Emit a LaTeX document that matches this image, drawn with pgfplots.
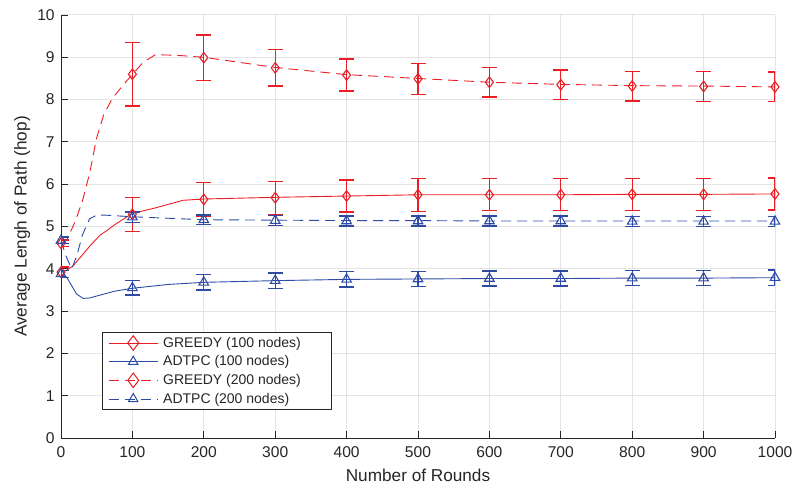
\documentclass[border=0pt]{standalone}
\usepackage{fontspec}
\setmainfont{Liberation Sans}
\usepackage{pgfplots}
\pgfplotsset{compat=1.18}
\definecolor{mred}{RGB}{235,30,38}
\definecolor{mblue}{RGB}{45,75,165}
\definecolor{axgray}{RGB}{38,38,38}
\definecolor{gridgray}{RGB}{228,228,228}
\pgfplotsset{
  errstyle/.style={only marks, forget plot,
    error bars/.cd, y dir=both, y explicit,
    error bar style={line width=1.3pt, solid},
    error mark options={rotate=90, mark size=7.5pt, line width=1.3pt, solid}},
}
\begin{document}
\begin{tikzpicture}
\path[use as bounding box] (0,0) rectangle (794pt,485pt);
\begin{axis}[
  at={(61pt,47pt)}, anchor=south west,
  scale only axis, width=714pt, height=423pt,
  xmin=0, xmax=1000, ymin=0, ymax=10,
  xtick={0,100,...,1000}, ytick={0,1,...,10},
  axis x line*=bottom, axis y line*=left,
  xtick pos=left, ytick pos=left,
  tick align=inside,
  major tick length=7pt,
  tick style={axgray, line width=0.8pt},
  axis line style={axgray, line width=0.8pt},
  grid=major,
  major grid style={gridgray, line width=1pt},
  ticklabel style={font=\fontsize{15.6}{18}\selectfont, text=axgray},
  /pgf/number format/assume math mode=true,
  /pgf/number format/1000 sep={},
  xticklabel style={yshift=-4.8pt},
  yticklabel style={xshift=-2.8pt},
  label style={font=\fontsize{17.2}{20}\selectfont, text=axgray},
  xlabel={Number of Rounds},
  ylabel={Average Lengh of Path (hop)},
  xlabel style={at={([yshift=-43pt]axis description cs:0.5,0)}, anchor=base},
  ylabel style={at={([xshift=-34.5pt]axis description cs:0,0.5)}, anchor=base},
  legend style={at={(0.0574,0.066)}, anchor=south west, draw=axgray, line width=0.6pt,
    font=\fontsize{14}{16}\selectfont, text=axgray, cells={anchor=west},
    inner xsep=6pt, inner ysep=3pt, row sep=3pt,
    /tikz/every odd column/.append style={column sep=3pt}},
  legend image code/.code={\draw[mark repeat=2,mark phase=2,#1] plot coordinates {(0pt,0pt) (24.5pt,0pt) (49pt,0pt)};},
]
% legend images
\addlegendimage{mred, solid, line width=0.9pt, mark=diamond, mark size=7.3pt, mark options={solid, line width=1pt, fill=none}}
\addlegendentry{\makebox[160pt][l]{GREEDY (100 nodes)}}
\addlegendimage{mblue, solid, line width=0.9pt, mark=triangle, mark size=5.5pt, mark options={solid, line width=1pt, fill=none}}
\addlegendentry{\makebox[160pt][l]{ADTPC (100 nodes)}}
\addlegendimage{mred, dash pattern=on 10pt off 6pt, line width=0.9pt, mark=diamond, mark size=7.3pt, mark options={solid, line width=1pt, fill=none}}
\addlegendentry{\makebox[160pt][l]{GREEDY (200 nodes)}}
\addlegendimage{mblue, dash pattern=on 10pt off 6pt, line width=0.9pt, mark=triangle, mark size=5.5pt, mark options={solid, line width=1pt, fill=none}}
\addlegendentry{\makebox[160pt][l]{ADTPC (200 nodes)}}

% ---- lines ----
% GREEDY (100 nodes)
\addplot[mred, line width=0.9pt, forget plot] coordinates {
(0,3.92) (8,3.97) (17,4.07) (27,4.27) (41,4.55) (55,4.80) (64,4.90) (75,5.04) (87,5.17) (100,5.31)
(130,5.43) (171,5.62) (200,5.65) (300,5.69) (400,5.72) (500,5.75) (600,5.75) (700,5.75) (800,5.76) (900,5.76) (1000,5.77)};
% ADTPC (100 nodes)
\addplot[mblue, line width=0.9pt, forget plot] coordinates {
(0,3.88) (8,3.80) (15,3.60) (22,3.40) (31,3.30) (40,3.31) (55,3.38) (75,3.47) (100,3.54)
(150,3.63) (200,3.68) (300,3.72) (400,3.75) (500,3.76) (600,3.77) (700,3.77) (800,3.78) (900,3.78) (1000,3.79)};
% GREEDY (200 nodes)
\addplot[mred, line width=0.9pt, dash pattern=on 10pt off 6pt, forget plot] coordinates {
(0,4.60) (8,4.68) (20,5.12) (30,5.60) (40,6.25) (50,7.10) (60,7.65) (72,8.03) (85,8.30) (100,8.60)
(115,8.88) (132,9.06) (160,9.05) (200,9.00) (300,8.76) (400,8.59) (500,8.50) (600,8.41) (700,8.36) (800,8.33) (900,8.32) (1000,8.30)};
% ADTPC (200 nodes)
\addplot[mblue, line width=0.9pt, dash pattern=on 10pt off 6pt, forget plot] coordinates {
(0,4.67) (7,4.30) (15,4.00) (22,4.30) (30,4.80) (40,5.18) (50,5.27) (60,5.27) (100,5.23)
(200,5.16) (300,5.15) (400,5.14) (500,5.14) (600,5.13) (700,5.13) (800,5.13) (900,5.13) (1000,5.13)};

% ---- markers with error bars ----
\addplot[mred, mark=diamond, mark size=5.3pt, mark options={solid, line width=1.1pt, fill=none}, errstyle]
table[x=x, y=y, y error=e] {
x y e
0 3.92 0.12
100 5.29 0.40
200 5.64 0.40
300 5.68 0.39
400 5.72 0.38
500 5.75 0.39
600 5.75 0.38
700 5.75 0.38
800 5.76 0.38
900 5.76 0.38
1000 5.77 0.38
};
\addplot[mblue, mark=triangle, mark size=5.5pt, mark options={solid, line width=1.1pt, fill=none}, errstyle]
table[x=x, y=y, y error=e] {
x y e
0 3.88 0.08
100 3.55 0.17
200 3.68 0.18
300 3.72 0.18
400 3.75 0.18
500 3.76 0.18
600 3.77 0.18
700 3.77 0.18
800 3.78 0.18
900 3.78 0.18
1000 3.79 0.18
};
\addplot[mred, mark=diamond, mark size=5.3pt, mark options={solid, line width=1.1pt, fill=none}, errstyle]
table[x=x, y=y, y error=e] {
x y e
0 4.60 0.08
100 8.60 0.75
200 8.99 0.54
300 8.75 0.43
400 8.58 0.38
500 8.49 0.37
600 8.41 0.35
700 8.35 0.35
800 8.32 0.35
900 8.31 0.35
1000 8.30 0.35
};
\addplot[mblue, mark=triangle, mark size=5.5pt, mark options={solid, line width=1.1pt, fill=none}, errstyle]
table[x=x, y=y, y error=e] {
x y e
0 4.67 0.08
100 5.22 0.12
200 5.16 0.11
300 5.14 0.12
400 5.13 0.12
500 5.13 0.12
600 5.13 0.12
700 5.13 0.12
800 5.12 0.12
900 5.12 0.12
1000 5.12 0.12
};
\end{axis}
\end{tikzpicture}
\end{document}
